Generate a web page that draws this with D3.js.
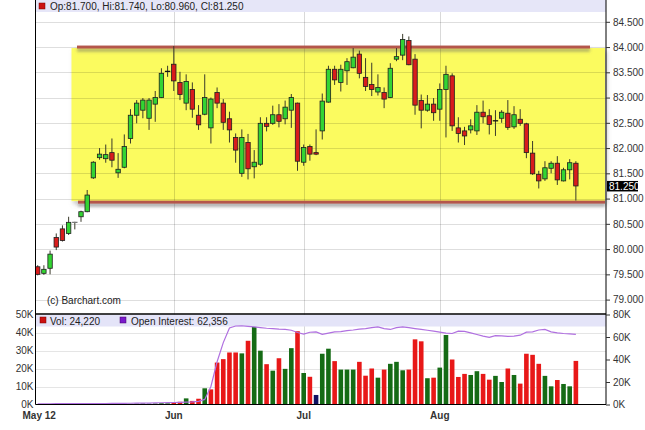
<!DOCTYPE html>
<html><head><meta charset="utf-8">
<script src="https://cdn.jsdelivr.net/npm/d3@7/dist/d3.min.js"></script>
<style>body{margin:0;background:#fff}svg{display:block;font-family:"Liberation Sans",Arial,sans-serif}</style>
</head><body><svg id="c" width="645" height="430"></svg>
<script>
// ---- data ----
const dates = [
"2012-05-01","2012-05-02","2012-05-03","2012-05-04","2012-05-07","2012-05-08","2012-05-09","2012-05-10","2012-05-11","2012-05-14","2012-05-15","2012-05-16","2012-05-17","2012-05-18","2012-05-21","2012-05-22","2012-05-23","2012-05-24","2012-05-25","2012-05-29","2012-05-30","2012-05-31",
"2012-06-01","2012-06-04","2012-06-05","2012-06-06","2012-06-07","2012-06-08","2012-06-11","2012-06-12","2012-06-13","2012-06-14","2012-06-15","2012-06-18","2012-06-19","2012-06-20","2012-06-21","2012-06-22","2012-06-25","2012-06-26","2012-06-27","2012-06-28","2012-06-29",
"2012-07-02","2012-07-03","2012-07-04","2012-07-05","2012-07-06","2012-07-09","2012-07-10","2012-07-11","2012-07-12","2012-07-13","2012-07-16","2012-07-17","2012-07-18","2012-07-19","2012-07-20","2012-07-23","2012-07-24","2012-07-25","2012-07-26","2012-07-27","2012-07-30","2012-07-31",
"2012-08-01","2012-08-02","2012-08-03","2012-08-06","2012-08-07","2012-08-08","2012-08-09","2012-08-10","2012-08-13","2012-08-14","2012-08-15","2012-08-16","2012-08-17","2012-08-20","2012-08-21","2012-08-22","2012-08-23","2012-08-24","2012-08-27","2012-08-28","2012-08-29","2012-08-30","2012-08-31"];
const open  = [79.65,79.52,79.62,80.23,80.40,80.31,80.53,80.64,80.74,81.41,81.81,81.79,81.91,81.51,81.62,82.19,82.65,82.75,82.59,82.87,83.00,83.52,
83.66,83.30,82.89,83.16,82.65,82.67,82.40,83.10,82.89,82.58,82.21,81.50,82.11,81.63,81.68,82.49,82.49,82.66,82.58,82.75,82.89,
81.72,82.03,81.91,82.34,82.91,83.56,83.30,83.53,83.59,83.86,83.40,83.26,83.11,83.10,83.00,83.76,83.84,84.13,83.76,82.94,82.75,82.87,
82.77,83.16,83.43,82.40,82.34,82.36,82.34,82.71,82.64,82.54,82.59,82.69,82.42,82.57,82.48,81.90,81.48,81.39,81.60,81.70,81.35,81.57,81.70];
const high  = [79.68,79.68,79.97,80.31,80.47,80.64,80.54,80.76,81.17,81.74,82.00,82.07,82.19,81.90,82.27,82.77,82.95,82.99,82.99,83.13,83.58,83.63,
84.02,83.51,83.46,83.30,82.85,83.46,83.00,83.20,82.97,82.72,82.29,82.37,82.28,81.96,82.61,82.61,82.84,82.87,82.94,83.07,82.90,
82.07,82.07,82.37,83.08,83.63,83.63,83.65,83.78,83.98,83.93,83.78,83.69,83.46,83.20,83.68,83.98,84.26,84.21,83.86,83.06,83.05,82.99,
83.28,83.63,83.48,82.61,82.42,82.57,82.85,82.94,82.77,82.75,82.75,82.95,82.83,82.77,82.50,82.14,81.55,81.74,81.74,81.84,81.61,81.78,81.74];
const low   = [79.48,79.49,79.50,79.98,80.15,80.28,80.39,80.54,80.73,81.39,81.77,81.71,81.62,81.41,81.60,82.09,82.49,82.59,82.36,82.52,82.99,83.41,
83.13,82.95,82.75,82.60,82.36,82.65,82.09,82.79,82.36,82.11,81.71,81.43,81.38,81.40,81.65,82.33,82.46,82.41,82.47,82.40,81.55,
81.65,81.75,81.86,82.17,82.90,83.25,83.12,83.25,83.58,83.38,83.13,83.03,83.04,82.79,82.99,83.72,83.74,83.64,82.66,82.39,82.72,82.54,
82.54,82.21,82.34,82.11,82.06,82.29,82.26,82.49,82.27,82.24,82.50,82.36,82.38,82.44,81.80,81.47,81.20,81.35,81.50,81.27,81.34,81.38,80.96];
const close = [79.50,79.60,79.90,80.04,80.17,80.53,80.53,80.74,81.07,81.72,81.88,81.87,81.76,81.58,82.03,82.65,82.89,82.95,82.95,83.00,83.48,83.52,
83.33,83.06,83.32,82.77,82.46,83.00,82.97,82.89,82.51,82.36,81.96,82.21,81.59,81.72,82.49,82.43,82.66,82.53,82.81,83.00,81.74,
82.01,81.88,81.88,82.93,83.56,83.35,83.56,83.71,83.80,83.48,83.22,83.16,83.20,82.97,83.58,83.81,84.15,83.65,82.85,82.75,82.87,82.70,
83.16,83.46,82.44,82.29,82.24,82.44,82.71,82.62,82.47,82.54,82.71,82.41,82.66,82.49,81.91,81.49,81.35,81.61,81.70,81.37,81.57,81.71,81.25];
const volume = [120,90,150,110,130,160,100,140,180,210,160,190,230,200,420,380,520,610,480,560,720,650,
900,1500,3400,2000,3200,9000,8400,23300,25200,28900,28900,28400,35400,43100,29900,22400,18800,25700,19800,31300,40700,
17500,15400,5300,28200,31000,24100,19400,19400,19400,23700,16000,20000,14900,19400,22600,23700,19000,19400,36200,35100,14600,14900,
20500,38600,25000,15300,17000,16400,18500,17000,13800,15900,12500,20000,16400,11600,28200,27600,22600,15900,10100,13600,11400,10100,24220];
const openInterest = [600,620,650,690,700,730,740,770,800,830,870,900,950,980,1030,1100,1180,1260,1350,1450,1560,1680,
1800,1950,2150,2400,2800,4500,16000,38000,55000,68000,69800,70000,69500,69000,68400,67800,67500,67000,66700,66000,64000,
62600,64200,64500,62400,63500,64600,64800,65600,66200,67000,67500,68300,69000,67500,66700,68300,69000,68400,67500,66700,66000,65200,
64300,63400,63100,65200,65000,63700,62200,60800,59600,61200,61000,60500,60800,61600,64300,64600,66200,66700,64600,63700,63100,62800,62356];
const priceTicks = [79.0,79.5,80.0,80.5,81.0,81.5,82.0,82.5,83.0,83.5,84.0,84.5];
const volTicks = [0,10000,20000,30000,40000,50000];
const oiTicks = [0,20000,40000,60000,80000];
const monthLabels = ["May 12","Jun","Jul","Aug"];
const resistance = 84.0, support = 80.93;
const lastOHLC = "Op:81.700, Hi:81.740, Lo:80.960, Cl:81.250";
const volLegend = "Vol: 24,220", oiLegend = "Open Interest: 62,356";
const copyright = "(c) Barchart.com";

// ---- layout ----
const L = 35.5, R = 606, mainTop = 0, mainBot = 313.5, volTop = 314.5, volBot = 404.5;
const svg = d3.select("#c");
const idx = d3.range(dates.length);
const x = d3.scaleLinear().domain([-0.356, 91.87]).range([L, R]);
const y = d3.scaleLinear().domain([79, 84.5]).range([299.6, 21.8]);
const yv = d3.scaleLinear().domain([0, 50000]).range([volBot, volTop]);
const yo = d3.scaleLinear().domain([0, 80000]).range([volBot, volTop]);

const defs = svg.append("defs");
const f = defs.append("filter").attr("id","sh").attr("filterUnits","userSpaceOnUse")
  .attr("x",0).attr("y",0).attr("width",645).attr("height",430);
f.append("feDropShadow").attr("dx",0).attr("dy",3).attr("stdDeviation",1.6).attr("flood-color","#666").attr("flood-opacity",0.55);
const f2 = defs.append("filter").attr("id","sh2").attr("filterUnits","userSpaceOnUse")
  .attr("x",0).attr("y",0).attr("width",645).attr("height",430);
f2.append("feDropShadow").attr("dx",2).attr("dy",3).attr("stdDeviation",2).attr("flood-color","#888").attr("flood-opacity",0.5);
defs.append("clipPath").attr("id","mc").append("rect").attr("x",L).attr("y",mainTop).attr("width",R-L).attr("height",mainBot-mainTop);
defs.append("clipPath").attr("id","vc").append("rect").attr("x",L).attr("y",volTop).attr("width",R-L).attr("height",volBot-volTop);

// month start indices
const monthStart = idx.filter(i => i === 0 || dates[i].slice(0,7) !== dates[i-1].slice(0,7));

// yellow channel
svg.append("rect").attr("x",71.5).attr("y",y(resistance)+1).attr("width",R-1-71.5).attr("height",y(support)-y(resistance)-2)
  .attr("fill","#fbfb5e").attr("filter","url(#sh2)");

// horizontal gridlines (price)
svg.append("g").selectAll("line").data(priceTicks).join("line")
  .attr("x1",L).attr("x2",R).attr("y1",d=>Math.round(y(d))+0.5).attr("y2",d=>Math.round(y(d))+0.5)
  .attr("stroke","#000").attr("stroke-opacity",0.13);
// vol gridlines
svg.append("g").selectAll("line").data(volTicks.slice(1,-1)).join("line")
  .attr("x1",L).attr("x2",R).attr("y1",d=>Math.round(yv(d))+0.5).attr("y2",d=>Math.round(yv(d))+0.5)
  .attr("stroke","#000").attr("stroke-opacity",0.1);
// vertical month gridlines
svg.append("g").selectAll("line").data(monthStart.slice(1)).join("line")
  .attr("x1",i=>Math.round(x(i))+0.5).attr("x2",i=>Math.round(x(i))+0.5).attr("y1",0).attr("y2",volBot)
  .attr("stroke","#000").attr("stroke-opacity",0.15);

// top legend band
svg.append("rect").attr("x",L).attr("y",0).attr("width",R-L).attr("height",12).attr("fill","#e6e6f8");
svg.append("rect").attr("x",39).attr("y",3).attr("width",6).attr("height",6).attr("fill","#cc1111").attr("stroke","#700").attr("stroke-width",0.5);
svg.append("text").attr("x",50).attr("y",10).attr("font-size",10).attr("fill","#222").text(lastOHLC);

// resistance / support lines (thin rects so the shadow filter has an area)
svg.append("rect").attr("x",77).attr("width",590-77).attr("y",y(resistance)-1.5).attr("height",3)
  .attr("fill","#b4574c").attr("filter","url(#sh)");
svg.append("rect").attr("x",78).attr("width",R-1-78).attr("y",y(support)-1.5).attr("height",3)
  .attr("fill","#b4574c").attr("filter","url(#sh)");

// candles
const cg = svg.append("g").attr("clip-path","url(#mc)");
const bw = 4.4;
cg.selectAll("line.w").data(idx).join("line").attr("class","w")
  .attr("x1",i=>x(i)).attr("x2",i=>x(i)).attr("y1",i=>y(high[i])).attr("y2",i=>y(low[i]))
  .attr("stroke","#3a3a2a").attr("stroke-width",1);
cg.selectAll("rect.b").data(idx.filter(i=>open[i]!==close[i])).join("rect").attr("class","b")
  .attr("x",i=>x(i)-bw/2).attr("width",bw)
  .attr("y",i=>y(Math.max(open[i],close[i])))
  .attr("height",i=>Math.max(1,Math.abs(y(open[i])-y(close[i]))))
  .attr("fill",i=>close[i]>open[i]?"#33d433":"#d81c1c")
  .attr("stroke","#1e1e1e").attr("stroke-width",0.8);
cg.selectAll("line.d").data(idx.filter(i=>open[i]===close[i])).join("line").attr("class","d")
  .attr("x1",i=>x(i)-bw/2-0.5).attr("x2",i=>x(i)+bw/2+0.5).attr("y1",i=>y(close[i])).attr("y2",i=>y(close[i]))
  .attr("stroke",i=>i<10?"#777":"#111").attr("stroke-width",1.3);

svg.append("text").attr("x",47).attr("y",304).attr("font-size",10).attr("fill","#222").text(copyright);

// volume panel band
svg.append("rect").attr("x",L).attr("y",volTop).attr("width",R-L).attr("height",12).attr("fill","#e4e4f8");
// volume bars
const vg = svg.append("g").attr("clip-path","url(#vc)");
const vcol = i => i===0 ? "#116611" : (close[i]>close[i-1] ? "#156b15" : close[i]<close[i-1] ? "#e81818" : "#101060");
vg.selectAll("rect").data(idx).join("rect")
  .attr("x",i=>x(i)-2.3).attr("width",4.6)
  .attr("y",i=>yv(volume[i])).attr("height",i=>volBot-yv(volume[i]))
  .attr("fill",vcol);
// open interest line
vg.append("path").datum(idx).attr("fill","none").attr("stroke","#b070e0").attr("stroke-width",1.2)
  .attr("d",d3.line().x(i=>x(i)).y(i=>yo(openInterest[i])));
// vol legend
svg.append("rect").attr("x",40).attr("y",317).attr("width",6).attr("height",6).attr("fill","#cc1111").attr("stroke","#700").attr("stroke-width",0.5);
svg.append("text").attr("x",50).attr("y",324.5).attr("font-size",10).attr("fill","#222").text(volLegend);
svg.append("rect").attr("x",120).attr("y",317).attr("width",6).attr("height",6).attr("fill","#7a1acc").attr("stroke","#406").attr("stroke-width",0.5);
svg.append("text").attr("x",131).attr("y",324.5).attr("font-size",10).attr("fill","#222").text(oiLegend);

// frame lines
svg.append("line").attr("x1",L).attr("x2",L).attr("y1",0).attr("y2",volBot).attr("stroke","#000");
svg.append("line").attr("x1",R).attr("x2",R).attr("y1",0).attr("y2",volBot).attr("stroke","#000");
svg.append("line").attr("x1",L).attr("x2",R).attr("y1",mainBot+0.5).attr("y2",mainBot+0.5).attr("stroke","#000").attr("stroke-width",1.6);
svg.append("line").attr("x1",L).attr("x2",R).attr("y1",volBot).attr("y2",volBot).attr("stroke","#000");

// right price axis
const ax = svg.append("g").attr("transform",`translate(${R},0)`)
  .call(d3.axisRight(y).tickValues(priceTicks).tickFormat(d3.format(".3f")).tickSize(4).tickPadding(3));
const ao = svg.append("g").attr("transform",`translate(${R},0)`)
  .call(d3.axisRight(yo).tickValues(oiTicks).tickFormat(d=>d/1000+"K").tickSize(4).tickPadding(3));
const av = svg.append("g").attr("transform",`translate(${L},0)`)
  .call(d3.axisLeft(yv).tickValues(volTicks).tickFormat(d=>d/1000+"K").tickSize(0).tickPadding(2));
[ax,ao,av].forEach(g=>{
  g.select(".domain").remove();
  g.selectAll("text").attr("font-size",10).attr("font-family",'"Liberation Sans",Arial,sans-serif').attr("fill","#333");
  g.selectAll("line").attr("stroke","#333");
});
av.selectAll("text").attr("dy","0.3em");

// last price marker
const lp = close[close.length-1];
svg.append("rect").attr("x",R+1).attr("y",y(lp)-5).attr("width",31).attr("height",10.5).attr("fill","#000");
svg.append("text").attr("x",R+3).attr("y",y(lp)+3.7).attr("font-size",10).attr("fill","#fff").text(d3.format(".3f")(lp));

// month labels
svg.append("g").selectAll("text").data(monthStart).join("text")
  .attr("x",i=>x(i)+(i===0?1.5:0)).attr("y",418.5).attr("text-anchor","middle")
  .attr("font-size",10).attr("font-weight","bold").attr("fill","#333")
  .text((i,k)=>monthLabels[k]);
</script></body></html>
